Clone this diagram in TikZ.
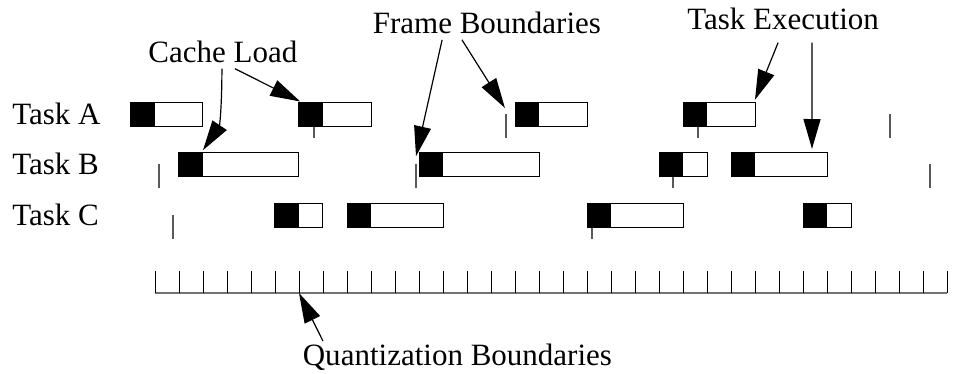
\documentclass[tikz,border=0pt]{standalone}
\usepackage{fontspec}
\setmainfont{Liberation Serif}
\newfontfamily\labelfont{Liberation Serif}
\usetikzlibrary{arrows.meta}
\tikzset{pointer/.style={-{Triangle[length=15pt,width=8.5pt]}, line width=0.6pt}}
\begin{document}
\begin{tikzpicture}[x=12pt,y=12pt,font=\labelfont\fontsize{15.5}{18}\selectfont]
\useasboundingbox (-6.458,-3.333) rectangle (33.708,12.208);

% quantization grid
\draw[black!55, line width=1pt] (0,0) -- (33,0);
\foreach \i in {0,...,33} \draw[line width=0.4pt] (\i,0) -- (\i,0.9);

% frame boundaries
\foreach \t in {6.625,14.625,22.625,30.625} \draw[black!65, line width=0.7pt] (\t,6.45) -- (\t,7.45);
\foreach \t in {0.167,10.875,21.58,32.29} \draw[black!65, line width=0.7pt] (\t,4.375) -- (\t,5.375);
\foreach \t in {0.75,18.21} \draw[black!65, line width=0.7pt] (\t,2.25) -- (\t,3.25);

% task rows
\node[anchor=west, inner sep=0] (taskA) at (-5.96,7.45) {Task A};
\node[anchor=west, inner sep=0] (taskB) at (-5.96,5.375) {Task B};
\node[anchor=west, inner sep=0] (taskC) at (-5.96,3.25) {Task C};

\foreach \s/\w in {-1/3,6/3,15/3,22/3} {
  \draw[fill=white, line width=0.5pt] (\s,6.95) rectangle ++(\w,1);
  \fill (\s,6.95) rectangle ++(1,1);
}
\foreach \s/\w in {1/5,11/5,21/2,24/4} {
  \draw[fill=white, line width=0.5pt] (\s,4.875) rectangle ++(\w,1);
  \fill (\s,4.875) rectangle ++(1,1);
}
\foreach \s/\w in {5/2,8/4,18/4,27/2} {
  \draw[fill=white, line width=0.5pt] (\s,2.75) rectangle ++(\w,1);
  \fill (\s,2.75) rectangle ++(1,1);
}

% labels
\node[anchor=base, inner sep=3pt] (cache) at (2.83,9.625) {Cache Load};
\node[anchor=base, inner sep=3pt] (frame) at (13.83,10.83) {Frame Boundaries};
\node[anchor=base, inner sep=3pt] (exec) at (26.17,10.96) {Task Execution};
\node[anchor=base, inner sep=3pt] (quant) at (12.6,-3.0) {Quantization Boundaries};

\coordinate (cacheB) at (2.0,5.95);
\coordinate (cacheA) at (6.05,7.98);
\coordinate (frameB) at (10.875,5.7);
\coordinate (frameA) at (14.58,7.71);
\coordinate (execA) at (25.0,8.05);
\coordinate (execB) at (27.375,6.0);
\coordinate (grid6) at (6.0,0.0);

\draw[pointer] ([xshift=-0.5pt]cache.south) .. controls (2.79,7.9) and (2.7,7.0) .. (cacheB);
\draw[pointer] ([xshift=6pt]cache.south) -- (cacheA);
\draw[pointer] ([xshift=-22.4pt]frame.south) -- (frameB);
\draw[pointer] ([xshift=-12.5pt]frame.south) -- (frameA);
\draw[pointer] ([xshift=-2.5pt,yshift=-3pt]exec.south) -- (execA);
\draw[pointer] ([xshift=14.5pt,yshift=-3pt]exec.south) -- (execB);
\draw[pointer] ([shift={(-67.2pt,-2pt)}]quant.north) -- (grid6);
\end{tikzpicture}
\end{document}
